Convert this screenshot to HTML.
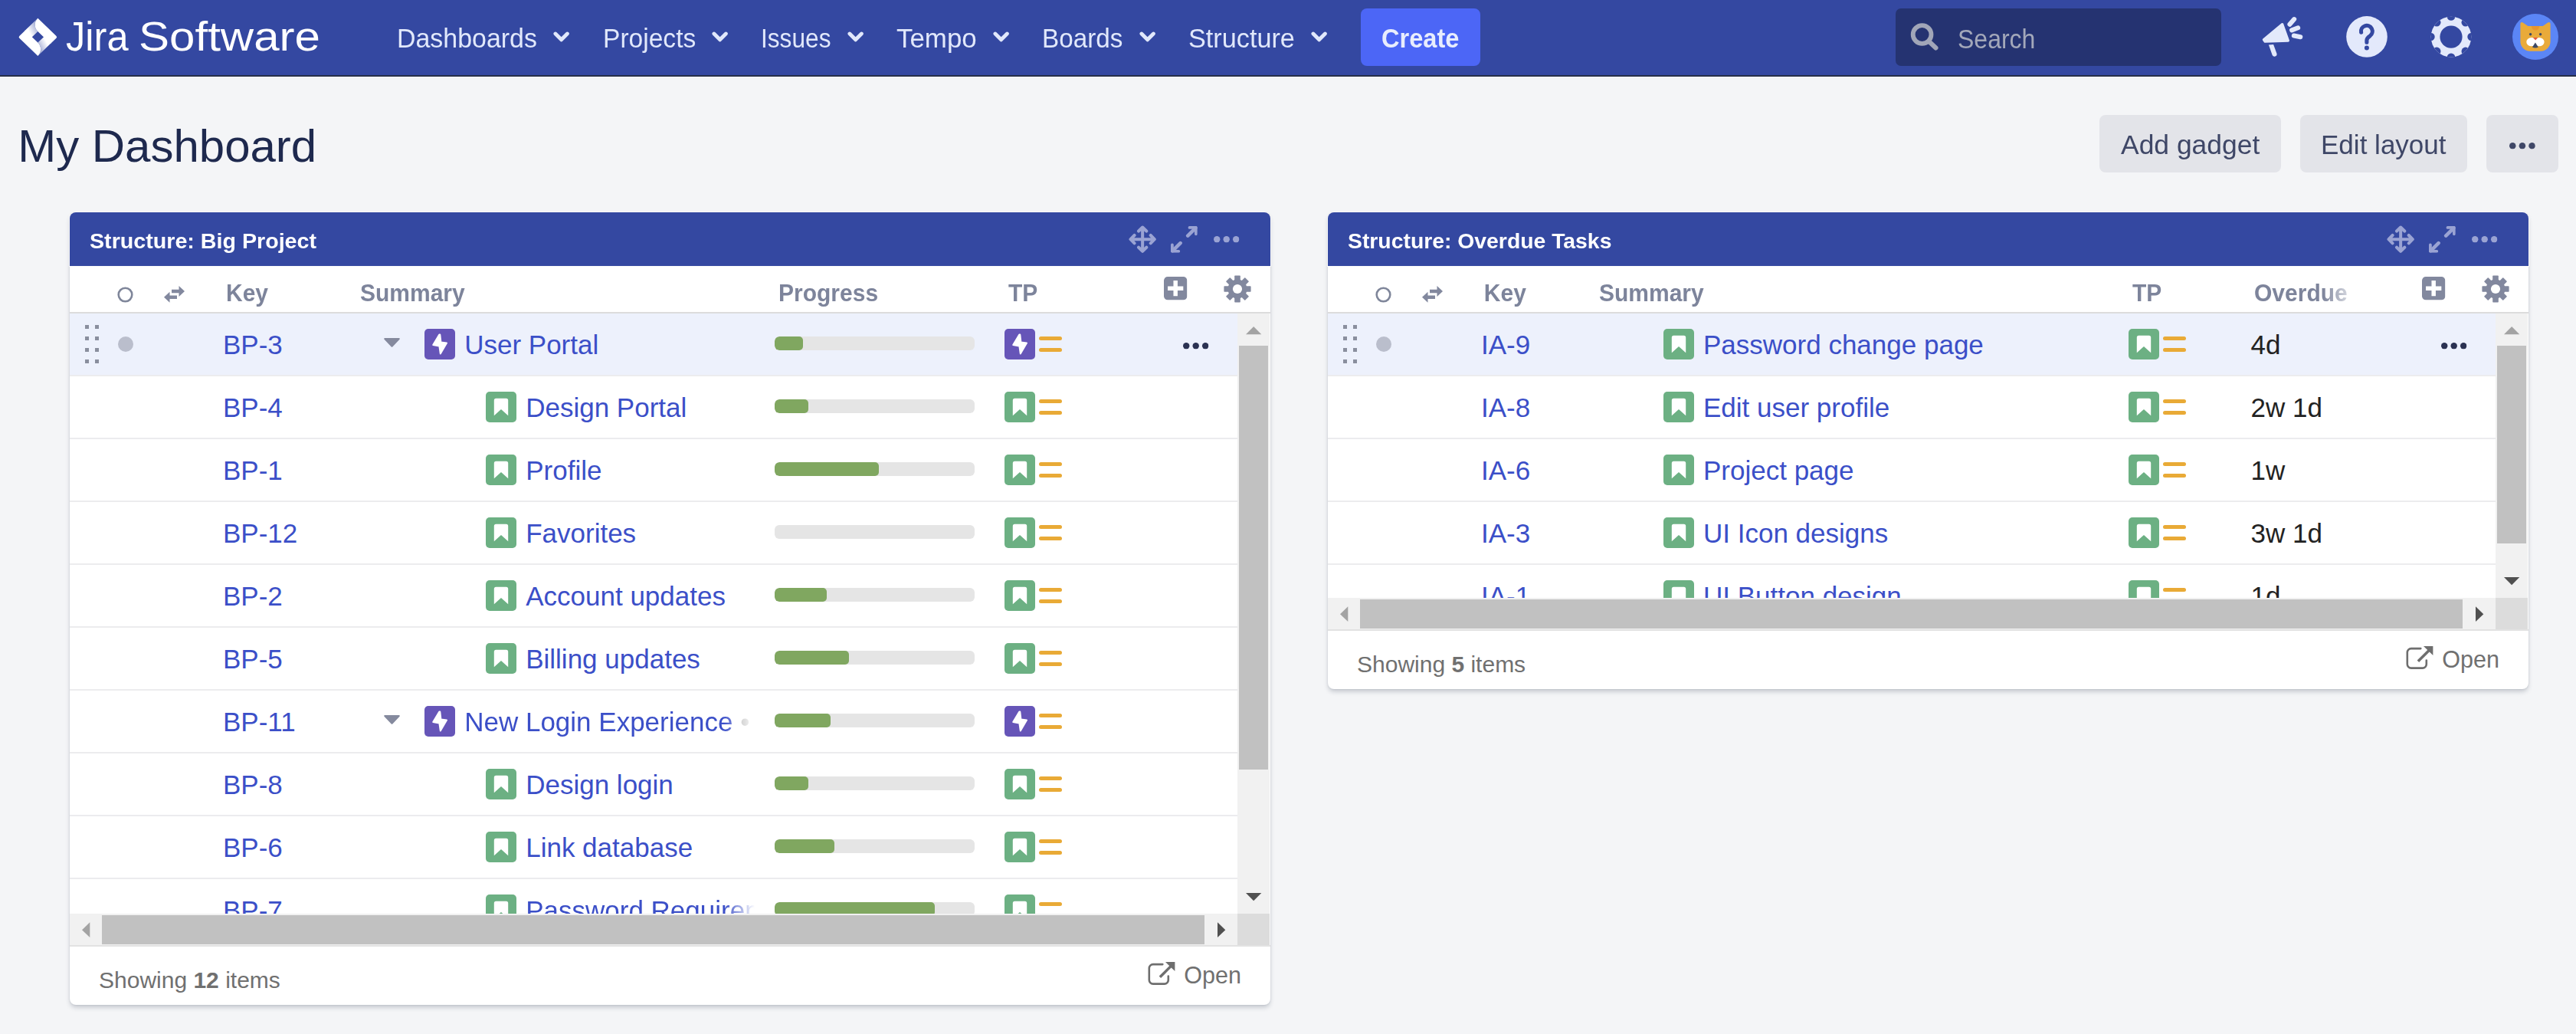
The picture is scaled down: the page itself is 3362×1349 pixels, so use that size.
<!DOCTYPE html><html lang="en"><head><meta charset="utf-8"><title>My Dashboard - Jira</title><style>
*{box-sizing:border-box;margin:0;padding:0}
html,body{width:3362px;height:1349px;overflow:hidden;background:#f4f5f7}
body{position:relative;font-family:"Liberation Sans",sans-serif;color:#172b4d}
.abs,.abs>*{position:absolute}
#hdr{position:absolute;left:0;top:0;width:3362px;height:100px;background:#3448a1;border-bottom:2px solid #252e48}
#hline{position:absolute;left:0;top:100px;width:3362px;height:1px;background:#fff}
.t{position:absolute;white-space:pre;line-height:1;transform-origin:0 0}
.nav{color:#e1e8fb;font-size:34px}
svg{position:absolute;overflow:visible}
.btn{position:absolute;top:150px;height:75px;background:#e3e4e9;border-radius:8px}
.btn .t{color:#3f4767;font-size:35px}
.gadget{position:absolute;top:277px;width:1567px;background:#fff;border-radius:8px;box-shadow:0 4px 6px -1.5px rgba(23,33,60,.23),0 0 2.5px rgba(23,33,60,.1)}
.gh{position:absolute;left:0;top:0;width:1567px;height:70px;background:#3448a1;border-radius:8px 8px 0 0;box-shadow:0 0 0 1px #fafafa}
.gt{color:#fff;font-weight:700;font-size:28.7px}
.ch{color:#7d849b;font-weight:700;font-size:30px;transform:scaleY(1.045);transform-origin:0 84.65%}
.chb{position:absolute;left:0;top:130px;width:1567px;height:2px;background:#dcdcdc}
.rows{position:absolute;left:0;top:132px;width:1524px;overflow:hidden}
.row{position:absolute;left:0;width:1524px;height:82px;border-bottom:2px solid #ececee}
.row.sel{background:#edf1fc}
.lk{color:#3b4fc8;font-size:35px}
.tx{color:#222;font-size:35px}
.ft{color:#707070;font-size:30px}
.pb{position:absolute;left:920px;top:30px;width:261px;height:17.5px;border-radius:6px;background:#e5e5e5;overflow:hidden}
.pb i{position:absolute;left:0;top:0;height:17.5px;background:#80a760;border-radius:6px 5px 5px 6px}
.vs{position:absolute;left:1524px;top:132px;width:42px;background:#f1f1f1}
.hs{position:absolute;left:0;width:1524px;height:41px;background:#f1f1f1}
.th{position:absolute;background:#c1c1c1}
.cn{position:absolute;left:1524px;width:42px;height:41px;background:#dcdcdc}
.fb{position:absolute;left:0;width:1567px;height:2px;background:#e2e2e2}
</style></head><body>

<svg width="0" height="0" style="position:absolute">
<defs>
<linearGradient id="jg1" x1="1" y1="0" x2="0.25" y2="0.6"><stop offset="0" stop-color="#fff" stop-opacity=".35"/><stop offset="1" stop-color="#fff"/></linearGradient>
<linearGradient id="jg2" x1="0" y1="1" x2="0.75" y2="0.4"><stop offset="0" stop-color="#fff" stop-opacity=".35"/><stop offset="1" stop-color="#fff"/></linearGradient>
<symbol id="chev" viewBox="0 0 22 14"><path d="M3 3l8 8 8-8" fill="none" stroke="#e1e8fb" stroke-width="5" stroke-linecap="round" stroke-linejoin="round"/></symbol>
<symbol id="epic" viewBox="0 0 40 40"><rect width="40" height="40" rx="5" fill="#6655b8"/><path d="M19.3 7.5L11.2 21l8.2 1.6 1.4 9.8L29 18.6l-7.6-1.2-1.1-9.9z" fill="#fff" stroke="#fff" stroke-width="2" stroke-linejoin="round"/></symbol>
<symbol id="story" viewBox="0 0 40 40"><rect width="40" height="40" rx="5" fill="#6cb083"/><path d="M10.8 11.2a2.5 2.5 0 0 1 2.5-2.5h13.4a2.5 2.5 0 0 1 2.5 2.5V31.3L20 22.9l-9.2 8.4z" fill="#fff"/></symbol>
<symbol id="prio" viewBox="0 0 30 20"><path d="M2.5 2.5h25M2.5 17.5h25" stroke="#e9aa36" stroke-width="5" stroke-linecap="round"/></symbol>
<symbol id="dots" viewBox="0 0 33.4 8.4"><circle cx="4.2" cy="4.2" r="4.2"/><circle cx="16.7" cy="4.2" r="4.2"/><circle cx="29.2" cy="4.2" r="4.2"/></symbol>
<symbol id="move" viewBox="0 0 36 36"><g fill="none" stroke="#9aa3d3" stroke-width="4" stroke-linecap="round" stroke-linejoin="round"><path d="M18 2.6v30.8M2.6 18h30.8M12.9 7.5l5.1-5 5.1 5M12.9 28.5l5.1 5 5.1-5M7.5 12.9l-5 5.1 5 5.1M28.5 12.9l5 5.1-5 5.1"/></g></symbol>
<symbol id="expand" viewBox="0 0 34.8 34.8"><g fill="none" stroke="#9aa3d3" stroke-linecap="round" stroke-linejoin="round"><path d="M22.2 12.6L32.5 2.3M12.6 22.1L2.3 32.4" stroke-width="4.6"/><path d="M24.5 1.9h8.4v8.4M1.9 24.4v8.4h8.4" stroke-width="3.8"/></g></symbol>
<symbol id="plus" viewBox="0 0 30 30"><rect width="30" height="30" rx="5" fill="#82889e"/><path d="M15 5v20M5 15h20" stroke="#fff" stroke-width="5.4"/></symbol>
<symbol id="cog" viewBox="-18 -18 36 36"><g fill="#82889e"><circle r="12.5"/><g id="tooth"><rect x="-3.8" y="-17.6" width="7.6" height="35.2" rx="0.8"/></g><use href="#tooth" transform="rotate(45)"/><use href="#tooth" transform="rotate(90)"/><use href="#tooth" transform="rotate(135)"/></g><circle r="6.1" fill="#fff"/></symbol>
<symbol id="swap" viewBox="0 0 28 22"><path d="M10 4.8h9.5V0L27 7l-7.5 7V9.2H10zM17 12.5H7.5V7.8L0 14.8l7.5 7V17H17z" fill="#82889e"/></symbol>
<symbol id="grip" viewBox="0 0 18 50"><g fill="#8a8f9e"><rect x="0" y="0" width="5" height="5"/><rect x="13" y="0" width="5" height="5"/><rect x="0" y="15" width="5" height="5"/><rect x="13" y="15" width="5" height="5"/><rect x="0" y="30" width="5" height="5"/><rect x="13" y="30" width="5" height="5"/><rect x="0" y="45" width="5" height="5"/><rect x="13" y="45" width="5" height="5"/></g></symbol>
<symbol id="open" viewBox="0 0 36 31"><path d="M19.3 3.1H6.8a5 5 0 0 0-5 5V23.6a5 5 0 0 0 5 5H21.8a5 5 0 0 0 5-5V18.5" fill="none" stroke="#6e6e6e" stroke-width="2.6" stroke-linecap="round"/><path d="M15.9 19.8L31.7 3.9" stroke="#6e6e6e" stroke-width="3.5"/><path d="M23 .1h12.4v12z" fill="#6e6e6e"/></symbol>
</defs></svg>

<div id="hdr">
<svg style="left:19.4px;top:18.5px" width="60.9" height="58.84" viewBox="0 0 32 32" preserveAspectRatio="none"><path d="M15.967 29.362a6.675 6.675 0 0 0 0-9.442l-8.699-8.671-3.957 3.957a1.062 1.062 0 0 0 0 1.5l12.656 12.656zm12.656-14.156L15.967 2.55l-.039.039a6.675 6.675 0 0 0 .028 9.41l8.706 8.667 3.96-3.96a1.062 1.062 0 0 0 0-1.5z" fill="#fff"/><path d="M15.967 11.992a6.675 6.675 0 0 1-.028-9.41L6.91 11.606l4.72 4.721 4.336-4.335z" fill="url(#jg1)"/><path d="M20.295 15.591l-4.328 4.329a6.675 6.675 0 0 1 0 9.442l9.05-9.05-4.722-4.721z" fill="url(#jg2)"/></svg>
<div class="t " style="left:86.09px;top:20.87px;font-size:54.5px;transform:scaleX(0.9283);color:#fff">Jira</div>
<div class="t " style="left:181.4px;top:20.87px;font-size:54.5px;transform:scaleX(1.1018);color:#fff">Software</div>
<div class="t nav" style="left:518.18px;top:32.78px;font-size:34.4px;transform:scaleX(0.9866);">Dashboards</div>
<svg style="left:722.2px;top:40.9px" width="21.3" height="13.9"><use href="#chev"/></svg>
<div class="t nav" style="left:786.61px;top:32.78px;font-size:34.4px;transform:scaleX(0.9762);">Projects</div>
<svg style="left:929.1px;top:40.9px" width="21.3" height="13.9"><use href="#chev"/></svg>
<div class="t nav" style="left:993.45px;top:32.78px;font-size:34.4px;transform:scaleX(0.9203);">Issues</div>
<svg style="left:1106.1px;top:40.9px" width="21.3" height="13.9"><use href="#chev"/></svg>
<div class="t nav" style="left:1170.2px;top:32.78px;font-size:34.4px;transform:scaleX(1.0145);">Tempo</div>
<svg style="left:1295.9px;top:40.9px" width="21.3" height="13.9"><use href="#chev"/></svg>
<div class="t nav" style="left:1360.14px;top:32.78px;font-size:34.4px;transform:scaleX(0.9666);">Boards</div>
<svg style="left:1486.6px;top:40.9px" width="21.3" height="13.9"><use href="#chev"/></svg>
<div class="t nav" style="left:1551.43px;top:32.78px;font-size:34.4px;transform:scaleX(0.9953);">Structure</div>
<svg style="left:1711.2px;top:40.9px" width="21.3" height="13.9"><use href="#chev"/></svg>
<div style="position:absolute;left:1776px;top:11px;width:156px;height:75px;background:#4c66f6;border-radius:8px"></div>
<div class="t " style="left:1803.1px;top:32.95px;font-size:34.2px;transform:scaleX(0.9529);color:#e8edfd;font-weight:700">Create</div>
<div style="position:absolute;left:2474px;top:11px;width:425px;height:75px;background:#253371;border-radius:7px"></div>
<svg style="left:2490px;top:27px" width="44" height="44" viewBox="0 0 44 44"><circle cx="18.6" cy="18" r="11.9" fill="none" stroke="#a1a6b8" stroke-width="5.8"/><path d="M27.5 27l9 8.5" stroke="#a1a6b8" stroke-width="6" stroke-linecap="round"/></svg>
<div class="t " style="left:2554.82px;top:33.78px;font-size:34.4px;transform:scaleX(0.9302);color:#a3a8ba">Search</div>
<svg style="left:2950px;top:20px" width="58" height="56" viewBox="0 0 58 56"><g fill="#e3e9fb" stroke="#e3e9fb" stroke-linejoin="round" stroke-linecap="round"><path d="M28.7 11.6L36.4 33.1 6.2 34.2 4.4 31.7z" stroke-width="3.2"/><path d="M10.9 38.4L17.1 38 21.5 50.1A3.1 3.1 0 0 1 15.7 52.1z" stroke="none"/><path d="M38.4 11.7L44.2 5.1M41.1 19.4l8.1-3.1M43.8 26.5l8.5 1.8" stroke-width="6" fill="none"/></g></svg>
<svg style="left:3062px;top:21px" width="54" height="54" viewBox="0 0 54 54"><circle cx="27" cy="26.9" r="26.8" fill="#e3e9fb"/><path d="M19.6 21.2A7.4 7.4 0 1 1 31.2 25.8C28.4 27.7 26.9 28.8 26.9 31.5V34.3" fill="none" stroke="#3448a1" stroke-width="5.1" stroke-linecap="round" stroke-linejoin="round"/><circle cx="26.9" cy="41.6" r="3" fill="#3448a1"/></svg>
<svg style="left:3172px;top:21px" width="54" height="54" viewBox="-27 -27.1 54 54"><clipPath id="gc"><circle r="26.3"/></clipPath><circle r="26.3" fill="#e3e9fb"/><g fill="#3448a1" clip-path="url(#gc)"><circle cx="0" cy="-26.6" r="5.3"/><circle cx="18.81" cy="-18.81" r="5.3"/><circle cx="26.6" cy="-0" r="5.3"/><circle cx="18.81" cy="18.81" r="5.3"/><circle cx="0" cy="26.6" r="5.3"/><circle cx="-18.81" cy="18.81" r="5.3"/><circle cx="-26.6" cy="0" r="5.3"/><circle cx="-18.81" cy="-18.81" r="5.3"/><circle r="14.6"/></g></svg>
<svg style="left:3279px;top:18px" width="60" height="60" viewBox="0 0 60 60"><circle cx="30" cy="30" r="30" fill="#5b86f6"/><path d="M10.4 13.5c0-2.3 1.4-3.2 3.3-2l6.6 4.5h19.4l6.6-4.5c1.9-1.2 3.3-.3 3.3 2V36c0 7-5.5 12.7-12.5 12.7H22.9c-7 0-12.5-5.7-12.5-12.7z" fill="#e9aa3a"/><path d="M24.7 16h10.6c-.5 3.6-2.6 5.6-5.3 5.6s-4.8-2-5.3-5.6z" fill="#e8952e"/><circle cx="23.6" cy="26.7" r="1.7" fill="#3d4a66"/><circle cx="36.6" cy="26.7" r="1.7" fill="#3d4a66"/><ellipse cx="24.9" cy="36.7" rx="6.6" ry="5.6" fill="#fff"/><ellipse cx="35" cy="36.7" rx="6.6" ry="5.6" fill="#fff"/><path d="M27 31h6.2l-3.1 3.4z" fill="#e5553f"/><path d="M29.9 37.4l3.9 6c-2.2 1.3-5.6 1.3-7.8 0z" fill="#3d4a66"/></svg>
</div><div id="hline"></div>
<div class="t " style="left:23.2px;top:161.23px;font-size:59.98px;color:#1e294e">My Dashboard</div>
<div class="btn" style="left:2740px;width:237px"><div class="t " style="left:28.2px;top:21.78px;font-size:34.4px;transform:scaleX(1.0302);">Add gadget</div></div>
<div class="btn" style="left:3002px;width:218px"><div class="t " style="left:26.8px;top:21.78px;font-size:34.4px;transform:scaleX(1.0186);">Edit layout</div></div>
<div class="btn" style="left:3245px;width:94px"><svg style="left:30.1px;top:35.7px;fill:#3f4767" width="33.8" height="8.5"><use href="#dots"/></svg></div>
<div class="gadget" style="left:91px;height:1034.2px">
<div class="gh"></div>
<div class="t gt" style="left:25.73px;top:22.76px;font-size:28.4px;transform:scaleX(1.0088);">Structure: Big Project</div>
<svg style="left:1381.8px;top:16.7px" width="36.3" height="36.3"><use href="#move"/></svg>
<svg style="left:1437px;top:17.6px" width="34.8" height="34.8"><use href="#expand"/></svg>
<svg style="left:1492.6px;top:30.7px;fill:#9aa3d3" width="33.4" height="8.4"><use href="#dots"/></svg>
<svg style="left:62px;top:97px" width="21" height="21" viewBox="0 0 21 21"><circle cx="10.5" cy="10.5" r="8.8" fill="none" stroke="#7f869a" stroke-width="2.6"/></svg>
<svg style="left:122.5px;top:95.5px" width="28" height="22"><use href="#swap"/></svg>
<div class="t ch" style="left:204px;top:91px;">Key</div>
<div class="t ch" style="left:379px;top:91px;">Summary</div>
<div class="t ch" style="left:925px;top:91px;">Progress</div>
<div class="t ch" style="left:1225px;top:91px;">TP</div>
<svg style="left:1428.2px;top:84px" width="30.4" height="30.4"><use href="#plus"/></svg>
<svg style="left:1505.5px;top:82px" width="36" height="36"><use href="#cog"/></svg>
<div class="chb"></div>
<div class="rows" style="height:783.2px">
<div class="row sel" style="top:0px">
<svg style="left:20.2px;top:15px" width="18" height="50"><use href="#grip"/></svg>
<div style="position:absolute;left:62.7px;top:30.4px;width:20px;height:20px;border-radius:50%;background:#babecc"></div>
<div class="t lk" style="left:200px;top:23.3px;">BP-3</div>
<svg style="left:410px;top:32px" width="21" height="12" viewBox="0 0 21 12"><path d="M1.2 0h18.6a1 1 0 0 1 .7 1.7L11.3 11.5a1.2 1.2 0 0 1-1.6 0L.5 1.7A1 1 0 0 1 1.2 0z" fill="#858a9e"/></svg>
<svg style="left:463px;top:20px" width="40" height="40"><use href="#epic"/></svg>
<div class="t lk" style="left:515.2px;top:23.3px;">User Portal</div>
<div class="pb"><i style="width:37px"></i></div>
<svg style="left:1220px;top:20px" width="40" height="40"><use href="#epic"/></svg>
<svg style="left:1265px;top:30px" width="30" height="20"><use href="#prio"/></svg>
<svg style="left:1453px;top:37.7px;fill:#2b3252" width="33.4" height="8.4"><use href="#dots"/></svg>
</div>
<div class="row" style="top:82px">
<div class="t lk" style="left:200px;top:23.3px;">BP-4</div>
<svg style="left:543px;top:20px" width="40" height="40"><use href="#story"/></svg>
<div class="t lk" style="left:595.2px;top:23.3px;">Design Portal</div>
<div class="pb"><i style="width:44px"></i></div>
<svg style="left:1220px;top:20px" width="40" height="40"><use href="#story"/></svg>
<svg style="left:1265px;top:30px" width="30" height="20"><use href="#prio"/></svg>
</div>
<div class="row" style="top:164px">
<div class="t lk" style="left:200px;top:23.3px;">BP-1</div>
<svg style="left:543px;top:20px" width="40" height="40"><use href="#story"/></svg>
<div class="t lk" style="left:595.2px;top:23.3px;">Profile</div>
<div class="pb"><i style="width:136px"></i></div>
<svg style="left:1220px;top:20px" width="40" height="40"><use href="#story"/></svg>
<svg style="left:1265px;top:30px" width="30" height="20"><use href="#prio"/></svg>
</div>
<div class="row" style="top:246px">
<div class="t lk" style="left:200px;top:23.3px;">BP-12</div>
<svg style="left:543px;top:20px" width="40" height="40"><use href="#story"/></svg>
<div class="t lk" style="left:595.2px;top:23.3px;">Favorites</div>
<div class="pb"><i style="width:0px"></i></div>
<svg style="left:1220px;top:20px" width="40" height="40"><use href="#story"/></svg>
<svg style="left:1265px;top:30px" width="30" height="20"><use href="#prio"/></svg>
</div>
<div class="row" style="top:328px">
<div class="t lk" style="left:200px;top:23.3px;">BP-2</div>
<svg style="left:543px;top:20px" width="40" height="40"><use href="#story"/></svg>
<div class="t lk" style="left:595.2px;top:23.3px;">Account updates</div>
<div class="pb"><i style="width:68px"></i></div>
<svg style="left:1220px;top:20px" width="40" height="40"><use href="#story"/></svg>
<svg style="left:1265px;top:30px" width="30" height="20"><use href="#prio"/></svg>
</div>
<div class="row" style="top:410px">
<div class="t lk" style="left:200px;top:23.3px;">BP-5</div>
<svg style="left:543px;top:20px" width="40" height="40"><use href="#story"/></svg>
<div class="t lk" style="left:595.2px;top:23.3px;">Billing updates</div>
<div class="pb"><i style="width:97px"></i></div>
<svg style="left:1220px;top:20px" width="40" height="40"><use href="#story"/></svg>
<svg style="left:1265px;top:30px" width="30" height="20"><use href="#prio"/></svg>
</div>
<div class="row" style="top:492px">
<div class="t lk" style="left:200px;top:23.3px;">BP-11</div>
<svg style="left:410px;top:32px" width="21" height="12" viewBox="0 0 21 12"><path d="M1.2 0h18.6a1 1 0 0 1 .7 1.7L11.3 11.5a1.2 1.2 0 0 1-1.6 0L.5 1.7A1 1 0 0 1 1.2 0z" fill="#858a9e"/></svg>
<svg style="left:463px;top:20px" width="40" height="40"><use href="#epic"/></svg>
<div class="t lk" style="left:515.2px;top:23.3px;width:378.8px;height:46px;overflow:hidden;-webkit-mask-image:linear-gradient(90deg,#000 calc(100% - 40px),transparent 100%);mask-image:linear-gradient(90deg,#000 calc(100% - 40px),transparent 100%)">New Login Experience <span style="color:#9a9a9a">•</span> SSO</div>
<div class="pb"><i style="width:73px"></i></div>
<svg style="left:1220px;top:20px" width="40" height="40"><use href="#epic"/></svg>
<svg style="left:1265px;top:30px" width="30" height="20"><use href="#prio"/></svg>
</div>
<div class="row" style="top:574px">
<div class="t lk" style="left:200px;top:23.3px;">BP-8</div>
<svg style="left:543px;top:20px" width="40" height="40"><use href="#story"/></svg>
<div class="t lk" style="left:595.2px;top:23.3px;">Design login</div>
<div class="pb"><i style="width:44px"></i></div>
<svg style="left:1220px;top:20px" width="40" height="40"><use href="#story"/></svg>
<svg style="left:1265px;top:30px" width="30" height="20"><use href="#prio"/></svg>
</div>
<div class="row" style="top:656px">
<div class="t lk" style="left:200px;top:23.3px;">BP-6</div>
<svg style="left:543px;top:20px" width="40" height="40"><use href="#story"/></svg>
<div class="t lk" style="left:595.2px;top:23.3px;">Link database</div>
<div class="pb"><i style="width:78px"></i></div>
<svg style="left:1220px;top:20px" width="40" height="40"><use href="#story"/></svg>
<svg style="left:1265px;top:30px" width="30" height="20"><use href="#prio"/></svg>
</div>
<div class="row" style="top:738px">
<div class="t lk" style="left:200px;top:23.3px;">BP-7</div>
<svg style="left:543px;top:20px" width="40" height="40"><use href="#story"/></svg>
<div class="t lk" style="left:595.2px;top:23.3px;width:298.8px;height:46px;overflow:hidden;-webkit-mask-image:linear-gradient(90deg,#000 calc(100% - 40px),transparent 100%);mask-image:linear-gradient(90deg,#000 calc(100% - 40px),transparent 100%)">Password Requirements</div>
<div class="pb"><i style="width:209px"></i></div>
<svg style="left:1220px;top:20px" width="40" height="40"><use href="#story"/></svg>
<svg style="left:1265px;top:30px" width="30" height="20"><use href="#prio"/></svg>
</div>
</div>
<div class="vs" style="height:783.2px"><div class="th" style="left:2px;top:42px;width:38px;height:553px"></div>
<svg style="left:10.9px;top:16.7px" width="20.3" height="10.2" viewBox="0 0 20 10"><path d="M0 10L10 0l10 10z" fill="#a3a3a3"/></svg>
<svg style="left:10.9px;top:755.7px" width="20.3" height="10.2" viewBox="0 0 20 10"><path d="M0 0l10 10L20 0z" fill="#505050"/></svg>
</div>
<div class="hs" style="top:915.2px"><div class="th" style="left:42px;top:2px;width:1438.7px;height:37.7px"></div>
<svg style="left:15.9px;top:10.6px" width="10.3" height="20.4" viewBox="0 0 11 21"><path d="M11 0L0 10.5 11 21z" fill="#a3a3a3"/></svg>
<svg style="left:1497.8px;top:10.6px" width="10.3" height="20.4" viewBox="0 0 11 21"><path d="M0 0l11 10.5L0 21z" fill="#505050"/></svg>
</div>
<div class="cn" style="top:915.2px"></div>
<div class="fb" style="top:956.2px"></div>
<div class="t ft" style="left:38px;top:986.6px;">Showing <b>12</b> items</div>
<svg style="left:1407px;top:978px" width="36" height="31"><use href="#open"/></svg>
<div class="t ft" style="left:1454.3px;top:979.8px;font-size:30.5px">Open</div>
</div>
<div class="gadget" style="left:1733px;height:622.3px">
<div class="gh"></div>
<div class="t gt" style="left:25.83px;top:22.76px;font-size:28.4px;transform:scaleX(0.9982);">Structure: Overdue Tasks</div>
<svg style="left:1381.8px;top:16.7px" width="36.3" height="36.3"><use href="#move"/></svg>
<svg style="left:1437px;top:17.6px" width="34.8" height="34.8"><use href="#expand"/></svg>
<svg style="left:1492.6px;top:30.7px;fill:#9aa3d3" width="33.4" height="8.4"><use href="#dots"/></svg>
<svg style="left:62px;top:97px" width="21" height="21" viewBox="0 0 21 21"><circle cx="10.5" cy="10.5" r="8.8" fill="none" stroke="#7f869a" stroke-width="2.6"/></svg>
<svg style="left:122.5px;top:95.5px" width="28" height="22"><use href="#swap"/></svg>
<div class="t ch" style="left:203.8px;top:91px;">Key</div>
<div class="t ch" style="left:354px;top:91px;">Summary</div>
<div class="t ch" style="left:1050px;top:91px;">TP</div>
<div class="t ch" style="left:1209px;top:91px;width:124px;overflow:hidden;-webkit-mask-image:linear-gradient(90deg,#000 72%,rgba(0,0,0,.3) 100%);mask-image:linear-gradient(90deg,#000 72%,rgba(0,0,0,.3) 100%)">Overdue</div>
<svg style="left:1428.2px;top:84px" width="30.4" height="30.4"><use href="#plus"/></svg>
<svg style="left:1505.5px;top:82px" width="36" height="36"><use href="#cog"/></svg>
<div class="chb"></div>
<div class="rows" style="height:371.3px">
<div class="row sel" style="top:0px">
<svg style="left:20.2px;top:15px" width="18" height="50"><use href="#grip"/></svg>
<div style="position:absolute;left:62.7px;top:30.4px;width:20px;height:20px;border-radius:50%;background:#babecc"></div>
<div class="t lk" style="left:200px;top:23.3px;">IA-9</div>
<svg style="left:438px;top:20px" width="40" height="40"><use href="#story"/></svg>
<div class="t lk" style="left:490px;top:23.3px;">Password change page</div>
<svg style="left:1045.4px;top:20px" width="40" height="40"><use href="#story"/></svg>
<svg style="left:1090.4px;top:30px" width="30" height="20"><use href="#prio"/></svg>
<div class="t tx" style="left:1204.5px;top:23.3px;">4d</div>
<svg style="left:1453px;top:37.7px;fill:#2b3252" width="33.4" height="8.4"><use href="#dots"/></svg>
</div>
<div class="row" style="top:82px">
<div class="t lk" style="left:200px;top:23.3px;">IA-8</div>
<svg style="left:438px;top:20px" width="40" height="40"><use href="#story"/></svg>
<div class="t lk" style="left:490px;top:23.3px;">Edit user profile</div>
<svg style="left:1045.4px;top:20px" width="40" height="40"><use href="#story"/></svg>
<svg style="left:1090.4px;top:30px" width="30" height="20"><use href="#prio"/></svg>
<div class="t tx" style="left:1204.5px;top:23.3px;">2w 1d</div>
</div>
<div class="row" style="top:164px">
<div class="t lk" style="left:200px;top:23.3px;">IA-6</div>
<svg style="left:438px;top:20px" width="40" height="40"><use href="#story"/></svg>
<div class="t lk" style="left:490px;top:23.3px;">Project page</div>
<svg style="left:1045.4px;top:20px" width="40" height="40"><use href="#story"/></svg>
<svg style="left:1090.4px;top:30px" width="30" height="20"><use href="#prio"/></svg>
<div class="t tx" style="left:1204.5px;top:23.3px;">1w</div>
</div>
<div class="row" style="top:246px">
<div class="t lk" style="left:200px;top:23.3px;">IA-3</div>
<svg style="left:438px;top:20px" width="40" height="40"><use href="#story"/></svg>
<div class="t lk" style="left:490px;top:23.3px;">UI Icon designs</div>
<svg style="left:1045.4px;top:20px" width="40" height="40"><use href="#story"/></svg>
<svg style="left:1090.4px;top:30px" width="30" height="20"><use href="#prio"/></svg>
<div class="t tx" style="left:1204.5px;top:23.3px;">3w 1d</div>
</div>
<div class="row" style="top:328px">
<div class="t lk" style="left:200px;top:23.3px;">IA-1</div>
<svg style="left:438px;top:20px" width="40" height="40"><use href="#story"/></svg>
<div class="t lk" style="left:490px;top:23.3px;">UI Button design</div>
<svg style="left:1045.4px;top:20px" width="40" height="40"><use href="#story"/></svg>
<svg style="left:1090.4px;top:30px" width="30" height="20"><use href="#prio"/></svg>
<div class="t tx" style="left:1204.5px;top:23.3px;">1d</div>
</div>
</div>
<div class="vs" style="height:371.3px"><div class="th" style="left:2px;top:42px;width:38px;height:258px"></div>
<svg style="left:10.9px;top:16.7px" width="20.3" height="10.2" viewBox="0 0 20 10"><path d="M0 10L10 0l10 10z" fill="#a3a3a3"/></svg>
<svg style="left:10.9px;top:343.8px" width="20.3" height="10.2" viewBox="0 0 20 10"><path d="M0 0l10 10L20 0z" fill="#505050"/></svg>
</div>
<div class="hs" style="top:503.3px"><div class="th" style="left:42px;top:2px;width:1438.7px;height:37.7px"></div>
<svg style="left:15.9px;top:10.6px" width="10.3" height="20.4" viewBox="0 0 11 21"><path d="M11 0L0 10.5 11 21z" fill="#a3a3a3"/></svg>
<svg style="left:1497.8px;top:10.6px" width="10.3" height="20.4" viewBox="0 0 11 21"><path d="M0 0l11 10.5L0 21z" fill="#505050"/></svg>
</div>
<div class="cn" style="top:503.3px"></div>
<div class="fb" style="top:544.3px"></div>
<div class="t ft" style="left:38px;top:574.7px;">Showing <b>5</b> items</div>
<svg style="left:1407px;top:566.1px" width="36" height="31"><use href="#open"/></svg>
<div class="t ft" style="left:1454.3px;top:567.9px;font-size:30.5px">Open</div>
</div>
</body></html>
